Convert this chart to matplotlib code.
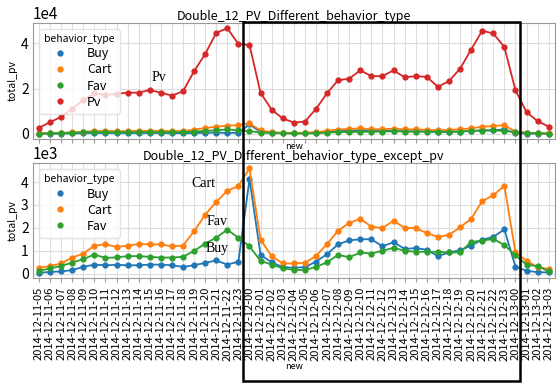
import numpy as np
import matplotlib
matplotlib.use('Agg')
import matplotlib.pyplot as plt
from matplotlib.lines import Line2D
from matplotlib.patches import Rectangle
from matplotlib.ticker import MultipleLocator

plt.rcParams['font.family'] = ['Noto Sans CJK JP', 'DejaVu Sans']

# x labels: hours around Double 12
days = ['11'] * 19 + ['12'] * 24 + ['13'] * 4
hours = list(range(5, 24)) + list(range(0, 24)) + list(range(0, 4))
labels = [f'2014-12-{d}-{h:02d}' for d, h in zip(days, hours)]

pv = [2650, 5150, 7500, 11200, 14900, 18000, 17100, 17700, 18200, 18200,
      19400, 18200, 16900, 18800, 27700, 35300, 44700, 46700, 39700, 39300,
      18100, 10700, 6800, 5000, 5400, 11000, 18000, 23700, 24400, 28100,
      25500, 25500, 28100, 25000, 25500, 25200, 20800, 23300, 28800, 37200,
      45600, 44400, 38400, 19300, 9600, 5600, 3200]
cart = [250, 320, 440, 700, 870, 1220, 1280, 1160, 1220, 1290,
        1280, 1270, 1190, 1220, 1850, 2570, 3140, 3620, 3830, 4600,
        1480, 760, 440, 440, 470, 770, 1290, 1880, 2210, 2400,
        2050, 1990, 2310, 1990, 1990, 1770, 1600, 1690, 2020, 2390,
        3170, 3420, 3840, 930, 550, 280, 200]
fav = [120, 220, 330, 480, 630, 830, 680, 710, 760, 760,
       730, 700, 700, 730, 990, 1310, 1570, 1920, 1560, 1190,
       550, 390, 230, 160, 150, 290, 490, 820, 710, 920,
       870, 1000, 1120, 1000, 950, 950, 950, 920, 920, 1380,
       1440, 1510, 1250, 790, 390, 320, 100]
buy = [30, 70, 90, 150, 290, 390, 360, 380, 360, 360,
       390, 390, 360, 290, 360, 470, 570, 390, 520, 4130,
       815, 490, 280, 250, 280, 520, 850, 1280, 1450, 1500,
       1500, 1190, 1370, 1080, 1110, 1040, 760, 920, 1020, 1220,
       1480, 1600, 1930, 300, 120, 60, 50]

colors = {'Buy': '#1f77b4', 'Cart': '#ff7f0e', 'Fav': '#2ca02c', 'Pv': '#d62728'}
x = np.arange(len(labels))

fig = plt.figure(figsize=(5.57, 3.83), dpi=100)
ax1 = fig.add_axes([0.059, 0.637, 0.937, 0.303])
ax2 = fig.add_axes([0.059, 0.274, 0.937, 0.300])


def draw(ax, series, title):
    for name, vals in series:
        ax.plot(x, vals, color=colors[name], lw=1.3, marker='o', ms=3.5)
    ax.set_xlim(-0.55, len(labels) - 0.45)
    ax.set_xticks(x)
    ax.grid(True, color='#dddddd', lw=0.8)
    ax.set_axisbelow(True)
    for s in ax.spines.values():
        s.set_color('#999999')
    ax.tick_params(axis='x', length=3, color='#999999')
    ax.tick_params(axis='y', length=0, labelsize=10, pad=3)
    ax.set_ylabel('total_pv', fontsize=7.5, labelpad=2)
    ax.set_title(title, fontsize=9, pad=2)
    ax.ticklabel_format(axis='y', style='sci', scilimits=(0, 0))
    ax.yaxis.get_offset_text().set_fontsize(11)
    handles = [Line2D([], [], ls='none', marker='o', ms=3.5, color=colors[n]) for n, _ in series]
    leg = ax.legend(handles, [n for n, _ in series], title='behavior_type', loc='upper left',
                    fontsize=9, title_fontsize=7.5, labelspacing=0.25, handletextpad=1.2,
                    borderaxespad=0.5, framealpha=0.8)
    leg.get_frame().set_edgecolor('#dddddd')


draw(ax1, [('Buy', buy), ('Cart', cart), ('Fav', fav), ('Pv', pv)],
     'Double_12_PV_Different_behavior_type')
ax1.tick_params(axis='x', labelbottom=False)
ax1.set_xlabel('new', fontsize=6.5, labelpad=-1)

draw(ax2, [('Buy', buy), ('Cart', cart), ('Fav', fav)],
     'Double_12_PV_Different_behavior_type_except_pv')
ax2.set_title('Double_12_PV_Different_behavior_type_except_pv', fontsize=9, pad=1)
ax2.yaxis.set_major_locator(MultipleLocator(1000))
ax2.set_xticklabels(labels, rotation=90, fontsize=8)
ax2.set_xlabel('new', fontsize=6.5, labelpad=1)

serif = dict(family='Liberation Serif', fontsize=10)
ax1.text(10.8, 25000, 'Pv', ha='center', va='center', **serif)
ax2.text(14.8, 3940, 'Cart', ha='center', va='center', **serif)
ax2.text(16.1, 2290, 'Fav', ha='center', va='center', **serif)
ax2.text(16.1, 1100, 'Buy', ha='center', va='center', **serif)

fig.patches.append(Rectangle((0.436, 0.005), 0.497, 0.938, transform=fig.transFigure,
                             fill=False, edgecolor='black', lw=1.8))

fig.savefig('out.png', dpi=100)
